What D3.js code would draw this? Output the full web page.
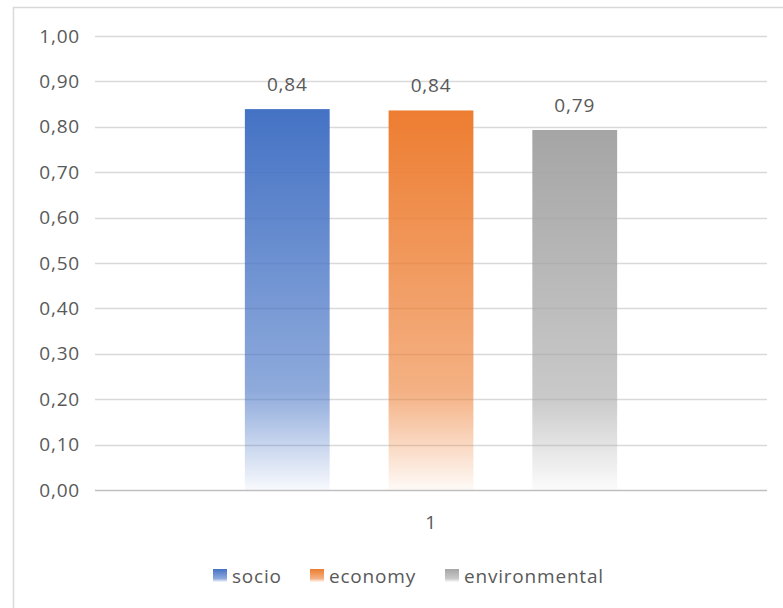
<!DOCTYPE html>
<html>
<head>
<meta charset="utf-8">
<script src="https://cdn.jsdelivr.net/npm/d3@7"></script>
<style>
  body { margin: 0; background: #fff; }
  svg { display: block; }
  text { font-family: "Open Sans", sans-serif; fill: #595959; letter-spacing: 0.8px; }
</style>
</head>
<body>
<svg width="783" height="608"></svg>
<script>
// data
var categories = ["1"];
var series = ["socio", "economy", "environmental"];
var values = [0.839, 0.836, 0.793];
var yTicks = [0, 0.1, 0.2, 0.3, 0.4, 0.5, 0.6, 0.7, 0.8, 0.9, 1.0];
var colors = ["#4472C4", "#ED7D31", "#A5A5A5"];

var svg = d3.select("svg"),
    margin = {top: 36, right: 16, bottom: 118, left: 95},
    width = +svg.attr("width"),
    height = +svg.attr("height"),
    plotW = width - margin.left - margin.right,
    plotH = height - margin.top - margin.bottom;

var locale = d3.formatLocale({decimal: ",", thousands: ".", grouping: [3], currency: ["", "€"]});
var fmt = locale.format(".2f");

// chart frame
svg.append("rect")
  .attr("x", 13.5).attr("y", 7.5)
  .attr("width", 780).attr("height", 610)
  .attr("fill", "#fff").attr("stroke", "#d9d9d9").attr("stroke-width", 1.5);

// gradients
var defs = svg.append("defs");
series.forEach(function(s, i) {
  var g = defs.append("linearGradient").attr("id", "grad-" + i)
    .attr("x1", 0).attr("y1", 0).attr("x2", 0).attr("y2", 1);
  g.append("stop").attr("offset", "0%").attr("stop-color", colors[i]).attr("stop-opacity", 1);
  g.append("stop").attr("offset", "74%").attr("stop-color", colors[i]).attr("stop-opacity", 0.6);
  g.append("stop").attr("offset", "100%").attr("stop-color", colors[i]).attr("stop-opacity", 0.04);
});

var g = svg.append("g").attr("transform", "translate(" + margin.left + "," + margin.top + ")");

var y = d3.scaleLinear().domain([0, 1]).range([plotH, 0]);
var x0 = d3.scaleBand().domain(categories).range([0, plotW]).padding(0.287);
var x1 = d3.scaleBand().domain(series).range([0, x0.bandwidth()]).paddingInner(0.41);

// gridlines
g.append("g").selectAll("line").data(yTicks.slice(1)).enter().append("line")
  .attr("x1", 0).attr("x2", plotW)
  .attr("y1", function(d) { return Math.round(y(d)) + 0.5; })
  .attr("y2", function(d) { return Math.round(y(d)) + 0.5; })
  .attr("stroke", "#d9d9d9").attr("stroke-width", 1.5);

// y labels
g.append("g").selectAll("text").data(yTicks).enter().append("text")
  .attr("x", -15).attr("y", function(d) { return y(d); })
  .attr("dy", "0.35em").attr("text-anchor", "end")
  .attr("font-size", 19).text(function(d) { return fmt(d); });

// bars
var cat = g.append("g").selectAll("g").data(categories).enter().append("g")
  .attr("transform", function(d) { return "translate(" + x0(d) + ",0)"; });

cat.selectAll("rect").data(series).enter().append("rect")
  .attr("x", function(d) { return x1(d); })
  .attr("y", function(d, i) { return y(values[i]); })
  .attr("width", x1.bandwidth())
  .attr("height", function(d, i) { return plotH - y(values[i]); })
  .attr("fill", function(d, i) { return "url(#grad-" + i + ")"; });

cat.selectAll("text.val").data(series).enter().append("text")
  .attr("class", "val")
  .attr("x", function(d) { return x1(d) + x1.bandwidth() / 2; })
  .attr("y", function(d, i) { return y(values[i]) - 18; })
  .attr("text-anchor", "middle").attr("font-size", 19)
  .text(function(d, i) { return fmt(values[i]); });

// x axis line
g.append("line").attr("x1", 0).attr("x2", plotW)
  .attr("y1", plotH + 0.5).attr("y2", plotH + 0.5)
  .attr("stroke", "#bfbfbf").attr("stroke-width", 1.5);

// category labels
g.append("g").selectAll("text").data(categories).enter().append("text")
  .attr("x", function(d) { return x0(d) + x0.bandwidth() / 2; })
  .attr("y", plotH + 39)
  .attr("text-anchor", "middle").attr("font-size", 19).text(function(d) { return d; });

// legend
var legendX = [213, 310, 445];
var legend = svg.append("g").selectAll("g").data(series).enter().append("g")
  .attr("transform", function(d, i) { return "translate(" + legendX[i] + ",569)"; });
legend.append("rect").attr("width", 14).attr("height", 13)
  .attr("fill", function(d, i) { return "url(#grad-" + i + ")"; });
legend.append("text").attr("x", 19).attr("y", 7).attr("dy", "0.35em")
  .attr("font-size", 19).text(function(d) { return d; });
</script>
</body>
</html>
